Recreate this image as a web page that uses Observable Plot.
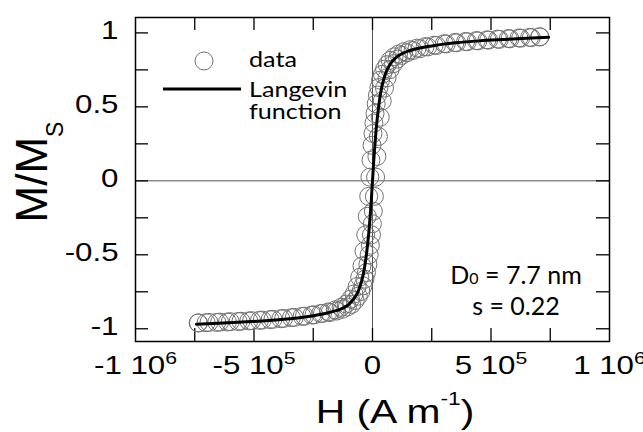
<!DOCTYPE html>
<html><head><meta charset="utf-8">
<script src="https://cdn.jsdelivr.net/npm/d3@7"></script>
<script src="https://cdn.jsdelivr.net/npm/@observablehq/plot@0.6"></script>
<style>
html,body{margin:0;padding:0;background:#fff;}
#chart{width:643px;height:432px;overflow:hidden;}
</style></head><body><div id="chart"></div>
<script>
// ---- tick values and labels ----
const xTickValues = [-1e6, -5e5, 0, 5e5, 1e6];
const xTickLabels = ["-1 10^6", "-5 10^5", "0", "5 10^5", "1 10^6"];
const xMinorTicks = [-7.5e5, -5e5, -2.5e5, 0, 2.5e5, 5e5, 7.5e5];
const yTickValues = [-1, -0.5, 0, 0.5, 1];
const yTickLabels = ["-1", "-0.5", "0", "0.5", "1"];
const yMinorTicks = [-1, -0.75, -0.5, -0.25, 0, 0.25, 0.5, 0.75, 1];

// ---- measured data (field sweep down) ----
const H_down = [706000, 663000, 618000, 573000, 528000, 483000, 438000, 393000, 348000, 303000, 260000, 222000, 188000, 158000, 132000, 110000, 91000, 75000, 62000, 51000, 42000, 34000, 27000, 21000, 15500, 10500, 6000, 2000, -2000, -6500, -11000, -16000, -22000, -28500, -36000, -44500, -54000, -65000, -78000, -93000, -111000, -132000, -157000, -186000, -219000, -256000, -297000, -342000, -387000, -432000, -477000, -522000, -567000, -612000, -657000, -702000, -735000];
const M_down = [0.974, 0.970, 0.966, 0.962, 0.958, 0.953, 0.948, 0.942, 0.935, 0.927, 0.917, 0.907, 0.897, 0.886, 0.873, 0.857, 0.838, 0.815, 0.785, 0.755, 0.72, 0.68, 0.63, 0.58, 0.52, 0.455, 0.39, 0.32, 0.24, 0.14, 0.025, -0.105, -0.24, -0.365, -0.475, -0.575, -0.652, -0.715, -0.765, -0.80, -0.833, -0.855, -0.872, -0.886, -0.897, -0.907, -0.916, -0.925, -0.932, -0.938, -0.943, -0.947, -0.951, -0.954, -0.957, -0.959, -0.961];
// ---- measured data (field sweep up) ----
const H_up = [-735000, -690000, -645000, -600000, -555000, -510000, -465000, -420000, -375000, -330000, -287000, -247000, -211000, -179000, -151000, -127000, -106000, -88000, -73000, -60000, -49000, -40000, -32000, -25500, -19500, -14000, -9000, -4500, -500, 3500, 8000, 13000, 18500, 25000, 32500, 41000, 50500, 61500, 74000, 88500, 105000, 124000, 146000, 171000, 200000, 233000, 270000, 311000, 355000, 400000, 445000, 490000, 535000, 580000, 625000, 670000, 706000];
const M_up = [-0.960, -0.957, -0.955, -0.952, -0.949, -0.945, -0.941, -0.936, -0.930, -0.923, -0.915, -0.906, -0.896, -0.89, -0.88, -0.868, -0.853, -0.835, -0.809, -0.78, -0.748, -0.71, -0.665, -0.62, -0.565, -0.50, -0.435, -0.365, -0.29, -0.205, -0.105, 0.025, 0.165, 0.30, 0.43, 0.54, 0.627, 0.697, 0.752, 0.792, 0.823, 0.848, 0.866, 0.881, 0.893, 0.905, 0.915, 0.925, 0.933, 0.940, 0.946, 0.951, 0.956, 0.960, 0.964, 0.968, 0.972];

// ---- Langevin fit curve ----
const H_fit = [-743000, -650000, -550000, -450000, -350000, -300000, -250000, -200000, -150000, -125000, -100000, -80000, -70000, -60000, -50000, -40000, -30000, -25000, -20000, -15000, -10000, -5000, -2000, 0, 2000, 5000, 10000, 15000, 20000, 25000, 30000, 40000, 50000, 60000, 70000, 80000, 100000, 125000, 150000, 200000, 250000, 300000, 350000, 450000, 550000, 650000, 743000];
const M_fit = [-0.969, -0.963, -0.955, -0.945, -0.932, -0.924, -0.912, -0.897, -0.876, -0.860, -0.835, -0.800, -0.776, -0.745, -0.700, -0.640, -0.550, -0.490, -0.420, -0.340, -0.240, -0.130, -0.050, 0, 0.050, 0.130, 0.240, 0.340, 0.420, 0.490, 0.550, 0.640, 0.700, 0.745, 0.776, 0.800, 0.835, 0.860, 0.877, 0.898, 0.912, 0.924, 0.933, 0.946, 0.955, 0.963, 0.970];

const legendLabels = ["data", "Langevin", "function"];
const noteLines = ["D0 = 7.7 nm", "s = 0.22"];

const down = H_down.map((h, i) => ({H: h, M: M_down[i]}));
const up = H_up.map((h, i) => ({H: h, M: M_up[i]}));
const fit = H_fit.map((h, i) => ({H: h, M: M_fit[i]}));

const W = 643, HT = 432, mL = 135, mR = 34, mT = 17, mB = 91;
const innerW = W - mL - mR, innerH = HT - mT - mB, tickLen = 13;
const SANS = "'Liberation Sans', Arial, Helvetica, sans-serif";
const HUMAN = "Lato, 'Open Sans', sans-serif";

const svg = Plot.plot({
  width: W, height: HT,
  marginLeft: mL, marginRight: mR, marginTop: mT, marginBottom: mB,
  style: {fontFamily: SANS, background: "white", overflow: "visible", color: "black"},
  x: {domain: [-1e6, 1e6]},
  y: {domain: [-1.086, 1.104]},
  marks: [
    Plot.ruleX([0], {stroke: "#555", strokeWidth: 1}),
    Plot.ruleY([0], {stroke: "#555", strokeWidth: 1}),
    Plot.ruleX(xMinorTicks, {x: d => d, insetTop: innerH - tickLen, stroke: "black", strokeWidth: 1.3}),
    Plot.ruleX(xMinorTicks, {x: d => d, insetBottom: innerH - tickLen, stroke: "black", strokeWidth: 1.3}),
    Plot.ruleY(yMinorTicks, {y: d => d, insetRight: innerW - tickLen, stroke: "black", strokeWidth: 1.3}),
    Plot.ruleY(yMinorTicks, {y: d => d, insetLeft: innerW - tickLen, stroke: "black", strokeWidth: 1.3}),
    Plot.dot(down, {x: "H", y: "M", r: 9, stroke: "#727272", strokeWidth: 1, fill: "none"}),
    Plot.dot(up, {x: "H", y: "M", r: 9, stroke: "#727272", strokeWidth: 1, fill: "none"}),
    Plot.line(fit, {x: "H", y: "M", stroke: "black", strokeWidth: 3, curve: "monotone-x"}),
    Plot.frame({stroke: "black", strokeWidth: 1.5}),
    Plot.axisX(xTickValues, {tickSize: 0, tickPadding: 15, fontSize: 25, label: null,
      tickFormat: d => xTickLabels[xTickValues.indexOf(d)]}),
    Plot.axisY(yTickValues, {tickSize: 0, tickPadding: 17, fontSize: 25, label: null, dy: -2,
      tickFormat: d => yTickLabels[yTickValues.indexOf(d)]})
  ]
});
document.getElementById("chart").appendChild(svg);

const SX = 1.25;
function stretch(t, s) {
  const x = parseFloat(t.getAttribute("x")) || 0;
  const tr = t.getAttribute("transform") || "";
  t.setAttribute("transform", `${tr} translate(${x},0) scale(${s},1) translate(${-x},0)`);
}
// tick labels with superscripts
svg.querySelectorAll('g[aria-label="x-axis tick label"] text').forEach(t => {
  const s = t.textContent;
  const m = s.match(/^(.*)\^(\d)$/);
  if (m) {
    t.textContent = "";
    const a = document.createElementNS("http://www.w3.org/2000/svg", "tspan");
    a.textContent = m[1];
    const b = document.createElementNS("http://www.w3.org/2000/svg", "tspan");
    b.textContent = m[2];
    b.setAttribute("font-size", "17");
    b.setAttribute("dy", "-10");
    t.appendChild(a); t.appendChild(b);
  }
  stretch(t, SX);
});
svg.querySelectorAll('g[aria-label="y-axis tick label"] text').forEach(t => stretch(t, SX));

const S = d3.select(svg);
// x axis title
const xt = S.append("text").attr("transform", `translate(395,423) scale(1.2,1)`)
  .attr("text-anchor", "middle").attr("font-family", SANS).attr("font-size", 34).attr("fill", "black");
xt.append("tspan").text("H (A m");
xt.append("tspan").attr("font-size", 19).attr("dy", -18).text("-1");
xt.append("tspan").attr("dy", 18).text(")");
// y axis title
const yt = S.append("text").attr("transform", `translate(47,172) rotate(-90)`)
  .attr("text-anchor", "middle").attr("font-family", SANS).attr("font-size", 44).attr("fill", "black");
yt.append("tspan").text("M/M");
yt.append("tspan").attr("font-size", 23).attr("dy", 16).text("S");

// legend
S.append("circle").attr("cx", 204).attr("cy", 61).attr("r", 9).attr("fill", "none").attr("stroke", "#727272");
S.append("line").attr("x1", 163).attr("x2", 241).attr("y1", 89).attr("y2", 89).attr("stroke", "black").attr("stroke-width", 3);
[[legendLabels[0], 67], [legendLabels[1], 97], [legendLabels[2], 119]].forEach(([s, y]) => {
  S.append("text").attr("transform", `translate(249,${y}) scale(1.17,1)`).attr("text-anchor", "start")
    .attr("font-family", HUMAN).attr("font-size", 21.5).attr("fill", "black").text(s);
});
// annotation
const n1 = S.append("text").attr("x", 516).attr("y", 284).attr("text-anchor", "middle")
  .attr("font-family", HUMAN).attr("font-size", 25).attr("fill", "black");
n1.append("tspan").text("D");
n1.append("tspan").attr("font-size", 16).text("0");
n1.append("tspan").text(noteLines[0].slice(2));
S.append("text").attr("x", 516).attr("y", 315).attr("text-anchor", "middle")
  .attr("font-family", HUMAN).attr("font-size", 25).attr("fill", "black").text(noteLines[1]);
</script>
</body></html>
